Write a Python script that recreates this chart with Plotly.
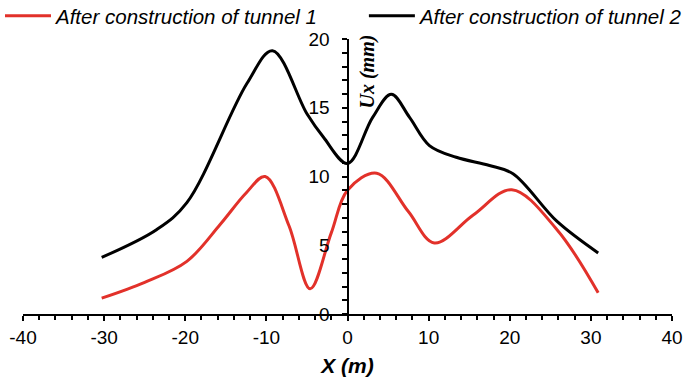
import plotly.graph_objects as go

# Data
x_t1 = [-30.3, -25.0, -19.8, -15.7, -12.5, -10.15, -7.2, -4.6, -2.0, 0.0, 3.6, 7.5, 10.7, 15.5, 20.25,
        25.8, 30.9]
y_t1 = [1.15, 2.3, 3.83, 6.51, 8.8, 10.0, 6.4, 1.83, 5.9, 9.0, 10.24, 7.45, 5.17, 7.2, 9.04,
        6.15, 1.54]

x_t2 = [-30.3, -23.5, -19.8, -12.4, -9.25, -5.0, -2.96, 0.0, 3.1, 5.4, 7.65, 10.1, 13.4, 17.5,
        20.4, 25.8, 30.9]
y_t2 = [4.12, 6.15, 8.1, 16.76, 19.15, 14.56, 12.85, 10.95, 14.3, 15.98, 14.3, 12.25, 11.4, 10.8,
        10.2, 6.75, 4.44]

name_t1 = "After construction of tunnel 1"
name_t2 = "After construction of tunnel 2"
x_ticks = [-40, -30, -20, -10, 0, 10, 20, 30, 40]
y_ticks = [0, 5, 10, 15, 20]

SANS = "Liberation Sans, Arial, sans-serif"
SERIF = "Liberation Serif, Times New Roman, serif"

fig = go.Figure()
fig.add_trace(go.Scatter(x=x_t1, y=y_t1, mode="lines", name=name_t1,
                         line=dict(color="#e2312a", width=3, shape="spline", smoothing=1.0),
                         legend="legend"))
fig.add_trace(go.Scatter(x=x_t2, y=y_t2, mode="lines", name=name_t2,
                         line=dict(color="#000000", width=3, shape="spline", smoothing=1.0),
                         legend="legend2"))

legend_font = dict(family=SANS, size=20.5, color="#000000", style="italic")
fig.update_layout(
    width=684, height=381,
    margin=dict(l=23, r=12, t=39, b=67, pad=0, autoexpand=False),
    paper_bgcolor="white", plot_bgcolor="white",
    showlegend=True,
    legend=dict(xref="container", yref="paper", x=-0.003, xanchor="left", y=1.084, yanchor="middle",
                orientation="h", font=legend_font, bgcolor="rgba(0,0,0,0)", itemwidth=46,
                tracegroupgap=0),
    legend2=dict(xref="container", yref="paper", x=0.532, xanchor="left", y=1.084, yanchor="middle",
                 orientation="h", font=legend_font, bgcolor="rgba(0,0,0,0)", itemwidth=46,
                 tracegroupgap=0),
    xaxis=dict(range=[-40, 40], tickvals=x_ticks, ticktext=[str(v) for v in x_ticks],
               showgrid=False, zeroline=False, showline=True, linecolor="black", linewidth=2,
               ticks="outside", ticklen=5, tickwidth=2, tickcolor="black",
               minor=dict(dtick=2, ticks="outside", ticklen=4, tickwidth=1.5, tickcolor="black"),
               tickfont=dict(family=SANS, size=19, color="black"),
               title=dict(text="<b><i>X (m)</i></b>", font=dict(family=SANS, size=21, color="black"),
                          standoff=12)),
    yaxis=dict(range=[0, 20], tickvals=y_ticks, ticktext=[str(v) for v in y_ticks],
               anchor="free", position=0.5,
               showgrid=False, zeroline=False, showline=True, linecolor="black", linewidth=2,
               ticks="outside", ticklen=5, tickwidth=2, tickcolor="black",
               minor=dict(dtick=1, ticks="outside", ticklen=5, tickwidth=1.5, tickcolor="black"),
               tickfont=dict(family=SANS, size=19, color="black"),
               ticklabelstandoff=8),
    annotations=[dict(text="<b><i>Ux (mm)</i></b>", xref="x", yref="y", x=0, y=17.6,
                      xanchor="center", yanchor="middle", xshift=19, textangle=-90, showarrow=False,
                      font=dict(family=SERIF, size=20, color="black"))],
)

fig.write_html("out.html")
